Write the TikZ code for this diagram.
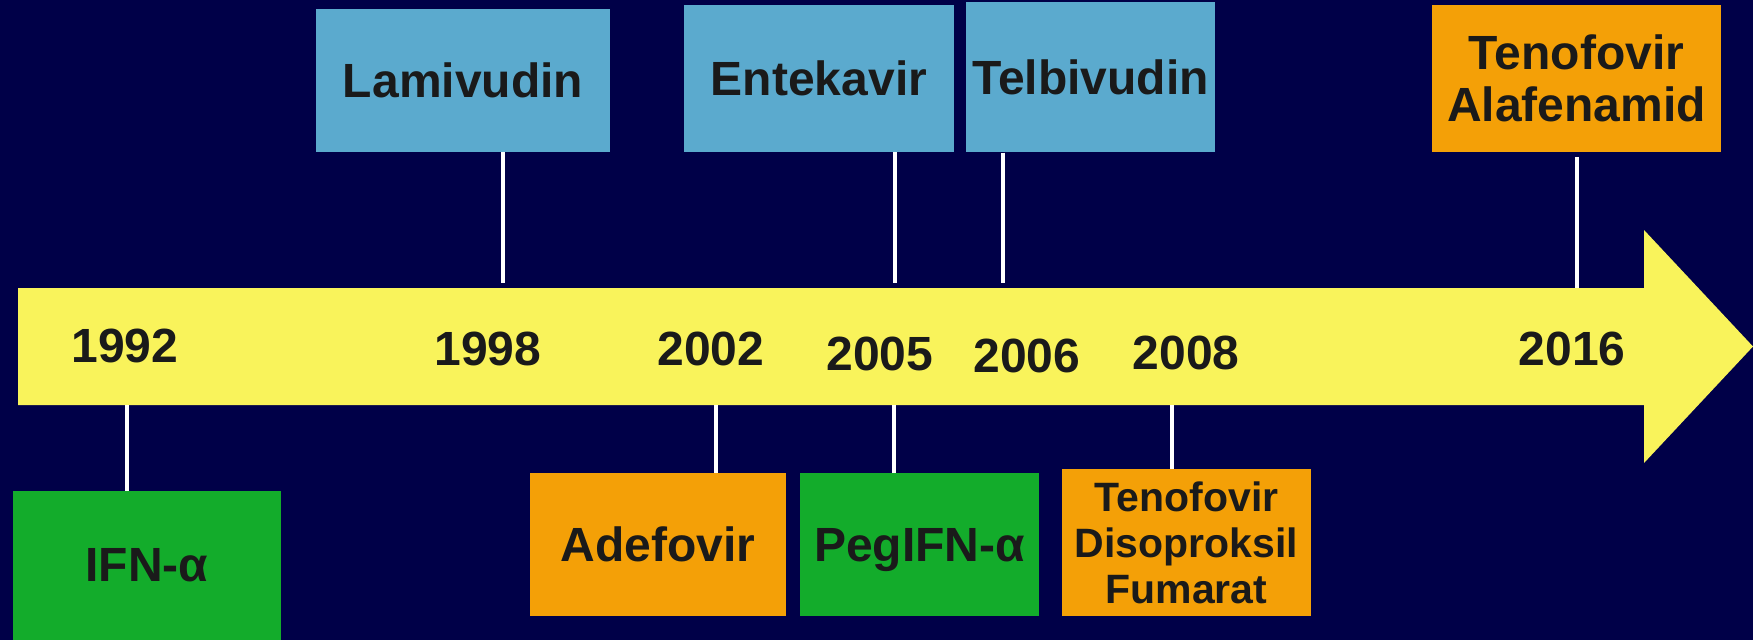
\documentclass[tikz,border=0pt]{standalone}
\usepackage{fontspec}
\setmainfont{Liberation Sans}
\definecolor{bg}{RGB}{0,0,72}
\definecolor{barY}{RGB}{249,243,91}
\definecolor{boxB}{RGB}{91,170,206}
\definecolor{boxO}{RGB}{244,160,7}
\definecolor{boxG}{RGB}{19,172,43}
\definecolor{txt}{RGB}{26,26,26}
\tikzset{
  drugbox/.style={inner sep=0pt, outer sep=0pt, anchor=north west, align=center, text=txt,
    font=\fontsize{48}{52}\selectfont\bfseries},
  yearlbl/.style={inner sep=0pt, text=txt, font=\fontsize{48}{52}\selectfont\bfseries},
  tick/.style={draw=white, line width=3.5pt}
}
\begin{document}
\begin{tikzpicture}[x=1pt,y=-1pt]
\useasboundingbox (0,0) rectangle (1753,640);
\fill[bg] (0,0) rectangle (1753,640);
% timeline arrow
\fill[barY] (18,288) -- (1644,288) -- (1644,230) -- (1753,346.5) -- (1644,463) -- (1644,405) -- (18,405) -- cycle;
% years
\node[yearlbl] (y1992) at (125,346) {1992};
\node[yearlbl] (y1998) at (488,349) {1998};
\node[yearlbl] (y2002) at (711,349) {2002};
\node[yearlbl] (y2005) at (880,354) {2005};
\node[yearlbl] (y2006) at (1027,355.5) {2006};
\node[yearlbl] (y2008) at (1186,352.5) {2008};
\node[yearlbl] (y2016) at (1572,349) {2016};
% top boxes
\node[drugbox, fill=boxB, minimum width=294pt, minimum height=143pt] (lam) at (316,9) {Lamivudin};
\node[drugbox, fill=boxB, minimum width=270pt, minimum height=147pt] (ent) at (684,5) {Entekavir};
\node[drugbox, fill=boxB, minimum width=249pt, minimum height=150pt] (tel) at (966,2) {Telbivudin};
\node[drugbox, fill=boxO, minimum width=289pt, minimum height=147pt] (taf) at (1432,5) {Tenofovir\\Alafenamid};
% bottom boxes
\node[drugbox, fill=boxG, minimum width=268pt, minimum height=149pt] (ifn) at (13,491) {IFN-α};
\node[drugbox, fill=boxO, minimum width=256pt, minimum height=143pt] (ade) at (530,473) {Adefovir};
\node[drugbox, fill=boxG, minimum width=239pt, minimum height=143pt, text depth=0pt] (peg) at (800,473) {PegIFN-α};
\node[drugbox, fill=boxO, minimum width=249pt, minimum height=147pt,
  font=\fontsize{41}{46}\selectfont\bfseries] (tdf) at (1062,469) {Tenofovir\\Disoproksil\\Fumarat};
% tick end points on the bar
\coordinate (c1998) at (503,283);
\coordinate (c2005t) at (895,283);
\coordinate (c2006) at (1003,283);
\coordinate (c2016) at (1577,288);
\coordinate (c1992) at (127,405);
\coordinate (c2002) at (716,405);
\coordinate (c2005b) at (894,405);
\coordinate (c2008) at (1172,405);
% connectors
\draw[tick] (lam.south -| c1998) -- (c1998);
\draw[tick] (ent.south -| c2005t) -- (c2005t);
\draw[tick] ([yshift=-0.5pt]tel.south -| c2006) -- (c2006);
\draw[tick] ([yshift=-5pt]taf.south -| c2016) -- (c2016);
\draw[tick] (c1992) -- (ifn.north -| c1992);
\draw[tick] (c2002) -- (ade.north -| c2002);
\draw[tick] (c2005b) -- (peg.north -| c2005b);
\draw[tick] (c2008) -- (tdf.north -| c2008);
\end{tikzpicture}
\end{document}
